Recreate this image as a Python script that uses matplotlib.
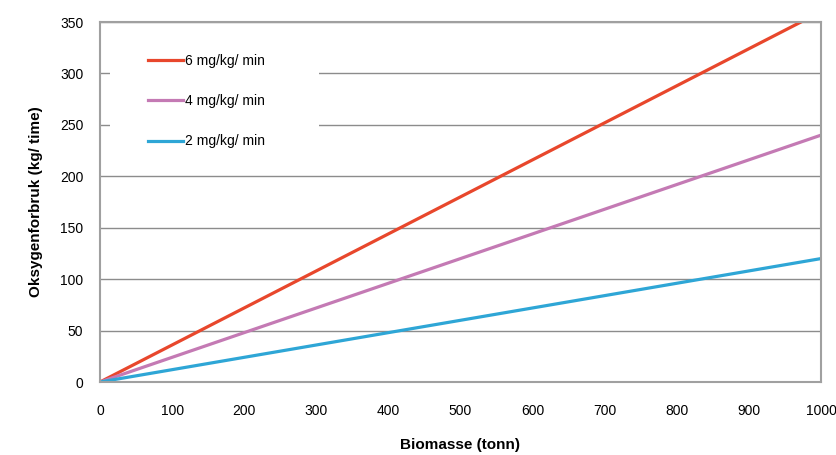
import matplotlib
matplotlib.use("Agg")
import matplotlib.pyplot as plt
from matplotlib.patches import Rectangle

# biomass (tonn) and oxygen use (kg/time) per feeding rate
biomasse = [0, 1000]
oks_6 = [0, 360]
oks_4 = [0, 240]
oks_2 = [0, 120]
labels = ["6 mg/kg/ min", "4 mg/kg/ min", "2 mg/kg/ min"]
xticks = [0, 100, 200, 300, 400, 500, 600, 700, 800, 900, 1000]
yticks = [0, 50, 100, 150, 200, 250, 300, 350]

plt.rcParams['font.family'] = ['Liberation Sans', 'DejaVu Sans']

fig = plt.figure(figsize=(8.36, 4.55), dpi=100)
ax = fig.add_axes([0.1196, 0.1604, 0.8624, 0.7912])

ax.plot(biomasse, oks_6, color='#e8472c', lw=2.3, label=labels[0])
ax.plot(biomasse, oks_4, color='#c47ab4', lw=2.3, label=labels[1])
ax.plot(biomasse, oks_2, color='#2ea6d6', lw=2.3, label=labels[2])

ax.set_xlim(0, 1000)
ax.set_ylim(0, 350)
ax.set_xticks(xticks)
ax.set_yticks(yticks)
ax.tick_params(length=0, labelsize=10)
ax.tick_params(axis='x', pad=16)
ax.tick_params(axis='y', pad=12)
ax.grid(axis='y', color='#8c8c8c', lw=1.0)
ax.set_axisbelow(True)
for s in ax.spines.values():
    s.set_color('#a0a0a0')
    s.set_linewidth(1.5)

ax.set_xlabel("Biomasse (tonn)", fontsize=11, fontweight='bold', labelpad=14)
ax.set_ylabel("Oksygenforbruk (kg/ time)", fontsize=11, fontweight='bold', labelpad=12)

# white area behind the legend hides the gridlines there
ax.add_patch(Rectangle((0.014, 0.63), 0.29, 0.34, transform=ax.transAxes,
                       facecolor='white', edgecolor='none', zorder=1.5))

leg = ax.legend(loc='upper left', bbox_to_anchor=(0.067, 0.912), frameon=False,
                fontsize=10, handlelength=2.5, handletextpad=0.15,
                labelspacing=1.9, borderpad=0, borderaxespad=0)

fig.savefig("out.png", dpi=100)
